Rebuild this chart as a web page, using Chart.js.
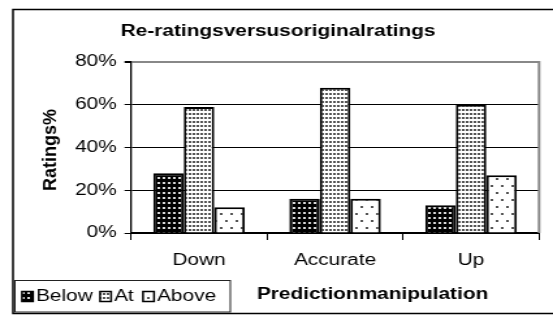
<!DOCTYPE html>
<html>
<head>
<meta charset="utf-8">
<script src="https://cdn.jsdelivr.net/npm/chart.js@4"></script>
<style>
  body { margin: 0; background: #fff; }
</style>
</head>
<body>
<!-- the reference looks horizontally stretched, so the canvas is drawn narrower and stretched by css -->
<canvas id="chart" width="425" height="315" style="width:553px;height:315px"></canvas>
<script>
const categories = ['Down', 'Accurate', 'Up'];
const seriesNames = ['Below', 'At', 'Above'];
const belowValues = [28, 16, 13];
const atValues = [59, 68, 60];
const aboveValues = [12, 16, 27];
const yTickValues = [0, 20, 40, 60, 80];

const chartTitle = 'Re-ratingsversusoriginalratings';
const yTitle = 'Ratings%';
const xTitle = 'Predictionmanipulation';

const STRETCH = 553 / 425;
const FONT = '"Liberation Sans", Arial, sans-serif';

function makePattern(w, h, bg, dot, dots) {
    const tile = document.createElement('canvas');
    tile.width = w;
    tile.height = h;
    const t = tile.getContext('2d');
    t.fillStyle = bg;
    t.fillRect(0, 0, w, h);
    t.fillStyle = dot;
    dots.forEach(function (d) { t.fillRect(d[0], d[1], d[2], d[3]); });
    return document.getElementById('chart').getContext('2d').createPattern(tile, 'repeat');
}

const belowFill = makePattern(4, 5, '#000', '#d8d8d8', [[1, 2, 2, 2]]);
const atFill = makePattern(3, 4, '#fff', '#555', [[1, 1, 2, 2]]);
const aboveFill = makePattern(8, 14, '#fff', '#555', [[1, 3, 2, 2], [5, 10, 2, 2]]);
const fills = [belowFill, atFill, aboveFill];

const decorations = {
    id: 'decorations',
    afterDraw: function (chart) {
        const ctx = chart.ctx;
        const area = chart.chartArea;
        ctx.save();

        // gray right border of plot area
        ctx.strokeStyle = '#888';
        ctx.lineWidth = 2;
        ctx.beginPath();
        ctx.moveTo(area.right, area.top - 1);
        ctx.lineTo(area.right, area.bottom);
        ctx.stroke();

        // outer frame
        ctx.strokeStyle = '#000';
        ctx.lineWidth = 1.5;
        ctx.strokeRect(10, 9.5, chart.width + 10, 304);

        ctx.fillStyle = '#000';
        ctx.textBaseline = 'middle';

        // title
        ctx.font = 'bold 16px ' + FONT;
        ctx.textAlign = 'center';
        ctx.fillText(chartTitle, 213.7, 32);

        // x title
        ctx.font = 'bold 16px ' + FONT;
        ctx.fillText(xTitle, 286.3, 295);

        // y title, not stretched
        ctx.save();
        ctx.translate(39, 150);
        ctx.scale(1 / STRETCH, 1);
        ctx.rotate(-Math.PI / 2);
        ctx.font = 'bold 18px ' + FONT;
        ctx.fillText(yTitle, 0, 0);
        ctx.restore();

        // legend box
        ctx.lineWidth = 1;
        ctx.strokeStyle = '#222';
        ctx.strokeRect(11.5, 280.5, 165.5, 31.5);
        ctx.font = '16px ' + FONT;
        ctx.textAlign = 'left';
        const keyX = [16.9, 76.9, 109.9];
        chart.data.datasets.forEach(function (ds, i) {
            const x = keyX[i];
            ctx.fillStyle = fills[i];
            ctx.fillRect(x, 291.5, 8.5, 10);
            ctx.strokeStyle = '#000';
            ctx.lineWidth = 1.5;
            ctx.strokeRect(x, 291.5, 8.5, 10);
            ctx.fillStyle = '#000';
            ctx.fillText(ds.label, x + 10.8, 296.5);
        });

        ctx.restore();
    }
};

const ctx = document.getElementById('chart').getContext('2d');
const chart = new Chart(ctx, {
    type: 'bar',
    data: {
        labels: categories,
        datasets: [
            { label: seriesNames[0], data: belowValues, backgroundColor: belowFill },
            { label: seriesNames[1], data: atValues, backgroundColor: atFill },
            { label: seriesNames[2], data: aboveValues, backgroundColor: aboveFill }
        ]
    },
    options: {
        responsive: false,
        animation: false,
        devicePixelRatio: 1,
        layout: { padding: { left: 0, top: 62, right: 425 - 414.3, bottom: 0 } },
        datasets: {
            bar: {
                borderColor: '#000',
                borderWidth: 2,
                categoryPercentage: 0.673,
                barPercentage: 1
            }
        },
        plugins: {
            legend: { display: false },
            title: { display: false },
            tooltip: { enabled: false }
        },
        scales: {
            x: {
                afterFit: function (scale) { scale.height = 315 - 233; },
                grid: {
                    drawOnChartArea: false,
                    color: '#000',
                    tickLength: 7
                },
                border: { color: '#000', width: 2 },
                ticks: {
                    color: '#000',
                    padding: 11,
                    font: { family: FONT, size: 16 }
                }
            },
            y: {
                min: 0,
                max: 80,
                afterFit: function (scale) { scale.width = 100.7; },
                afterBuildTicks: function (scale) {
                    scale.ticks = yTickValues.map(function (v) { return { value: v }; });
                },
                grid: {
                    color: function (c) { return c.tick && c.tick.value === 80 ? '#888' : '#000'; },
                    lineWidth: function (c) { return c.tick && c.tick.value === 80 ? 2 : 1; },
                    tickColor: '#000',
                    tickLength: 5
                },
                border: { color: '#000', width: 1.3 },
                ticks: {
                    color: '#000',
                    padding: 6,
                    font: { family: FONT, size: 16 },
                    callback: function (v) { return v + '%'; }
                }
            }
        }
    },
    plugins: [decorations]
});
</script>
</body>
</html>
